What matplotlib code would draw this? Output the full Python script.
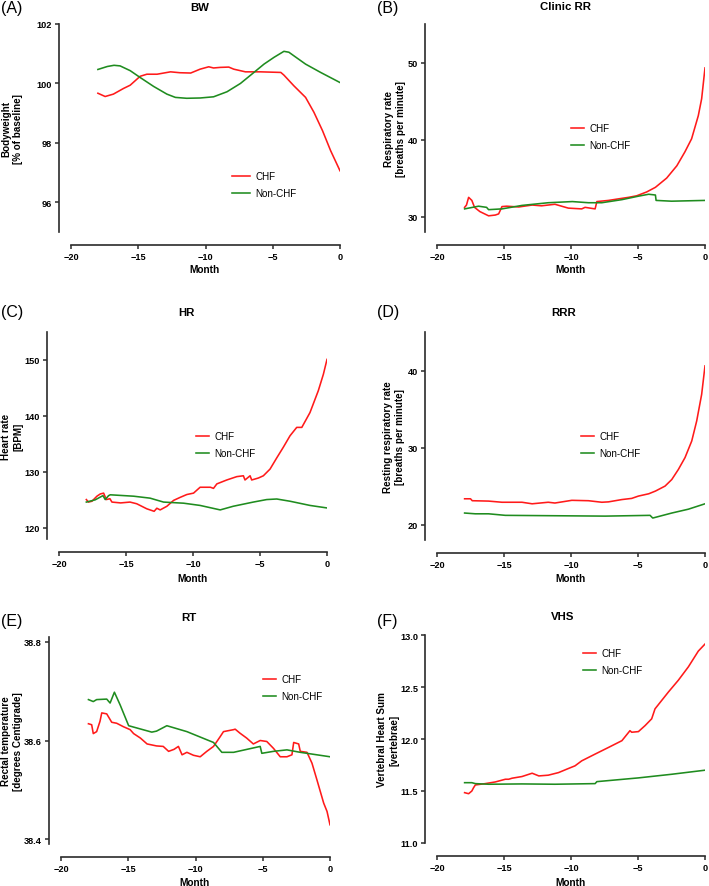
import matplotlib
matplotlib.use('Agg')
import matplotlib.pyplot as plt

plt.rcParams['font.family'] = ['Liberation Sans', 'DejaVu Sans']

# ---- data (month before diagnosis, value) ----
bw_chf_x = [-18.0, -17.46, -16.85, -16.1, -15.6, -14.86, -14.36, -13.6, -12.6, -11.9, -11.1, -10.4,
            -9.76, -9.4, -8.9, -8.27, -7.9, -7.03, -5.9, -5.16, -4.4, -4.17, -3.43, -2.56, -1.94,
            -1.3, -0.7, 0.0]
bw_chf_y = [99.67, 99.56, 99.64, 99.83, 99.94, 100.24, 100.31, 100.31, 100.39, 100.36, 100.35, 100.48,
            100.56, 100.52, 100.54, 100.55, 100.48, 100.39, 100.39, 100.38, 100.37, 100.28, 99.92, 99.53,
            99.03, 98.41, 97.74, 97.06]
bw_non_x = [-18.0, -17.3, -16.8, -16.35, -15.6, -14.86, -13.86, -12.87, -12.24, -11.4, -10.4, -9.4,
            -8.4, -7.4, -6.4, -5.65, -4.9, -4.17, -3.8, -3.43, -2.56, -1.44, 0.0]
bw_non_y = [100.47, 100.57, 100.61, 100.59, 100.43, 100.2, 99.9, 99.64, 99.53, 99.5, 99.51, 99.55,
            99.72, 100.0, 100.37, 100.65, 100.88, 101.08, 101.05, 100.93, 100.65, 100.37, 100.03]

rr_chf_x = [-17.94, -17.8, -17.64, -17.4, -17.2, -16.8, -16.15, -15.65, -15.4, -15.15, -14.8, -13.9,
            -12.9, -12.2, -11.2, -10.7, -10.2, -9.2, -8.95, -8.2, -8.07, -7.2, -6.46, -5.7, -5.1,
            -4.35, -3.7, -2.86, -2.1, -1.5, -1.0, -0.5, -0.25, 0.0]
rr_chf_y = [31.2, 31.5, 32.5, 32.1, 31.2, 30.65, 30.1, 30.2, 30.35, 31.3, 31.35, 31.25,
            31.5, 31.4, 31.6, 31.35, 31.1, 31.0, 31.2, 31.0, 31.95, 32.1, 32.3, 32.5, 32.7,
            33.2, 33.8, 35.0, 36.6, 38.4, 40.1, 43.1, 45.3, 49.3]
rr_non_x = [-17.94, -16.9, -16.3, -16.15, -15.15, -13.66, -11.7, -9.9, -8.7, -7.7, -6.2, -4.97,
            -4.2, -3.7, -3.65, -2.5, 0.0]
rr_non_y = [31.0, 31.35, 31.2, 30.9, 31.0, 31.45, 31.8, 31.95, 31.8, 31.8, 32.2, 32.65,
            32.9, 32.8, 32.1, 32.0, 32.1]

hr_chf_x = [-17.96, -17.8, -17.54, -17.17, -16.92, -16.67, -16.47, -16.2, -16.05, -15.4, -14.7, -14.2,
            -13.45, -12.9, -12.7, -12.45, -11.95, -11.45, -10.95, -10.46, -9.96, -9.47, -8.7, -8.47,
            -8.22, -7.48, -6.73, -6.24, -6.12, -5.74, -5.62, -5.12, -4.75, -4.25, -3.75, -3.26,
            -2.76, -2.26, -1.88, -1.27, -0.65, -0.27, 0.0]
hr_chf_y = [125.05, 124.6, 124.75, 125.65, 126.05, 126.2, 125.05, 125.2, 124.6, 124.45, 124.6, 124.3,
            123.4, 122.95, 123.5, 123.2, 123.85, 124.9, 125.45, 125.95, 126.2, 127.25, 127.25, 127.05,
            127.85, 128.55, 129.15, 129.3, 128.55, 129.3, 128.55, 128.9, 129.3, 130.5, 132.5, 134.4,
            136.45, 137.95, 137.95, 140.6, 144.5, 147.45, 150.1]
hr_non_x = [-17.96, -17.3, -16.72, -16.55, -16.3, -16.17, -14.43, -13.2, -12.2, -10.7, -9.47, -7.97,
            -7.0, -5.5, -4.5, -3.75, -2.76, -1.27, 0.0]
hr_non_y = [124.6, 125.0, 125.75, 125.05, 125.75, 125.9, 125.65, 125.3, 124.6, 124.4, 124.0, 123.2,
            123.85, 124.6, 125.05, 125.15, 124.75, 124.0, 123.55]

rrr_chf_x = [-17.94, -17.5, -17.37, -16.15, -15.15, -13.66, -12.9, -11.7, -11.2, -9.94, -8.7, -7.7,
             -7.2, -6.2, -5.47, -4.97, -4.2, -3.7, -2.98, -2.48, -1.99, -1.49, -0.99, -0.62, -0.25, 0.0]
rrr_chf_y = [23.35, 23.35, 23.1, 23.05, 22.9, 22.9, 22.7, 22.9, 22.8, 23.15, 23.1, 22.9,
             22.95, 23.25, 23.4, 23.7, 24.0, 24.35, 25.0, 25.85, 27.15, 28.7, 30.85, 33.45, 36.9, 40.6]
rrr_non_x = [-17.94, -17.14, -16.15, -14.9, -11.2, -7.45, -4.1, -3.9, -2.48, -1.24, 0.0]
rrr_non_y = [21.5, 21.4, 21.4, 21.2, 21.15, 21.1, 21.2, 20.85, 21.5, 22.0, 22.7]

rt_chf_x = [-17.96, -17.72, -17.6, -17.35, -17.1, -16.97, -16.6, -16.23, -15.86, -15.36, -14.86, -14.6,
            -14.1, -13.6, -12.9, -12.4, -12.0, -11.6, -11.27, -11.0, -10.64, -10.15, -9.65, -9.16,
            -8.66, -8.16, -7.92, -7.17, -7.05, -6.7, -6.2, -5.7, -5.19, -4.7, -4.2, -3.7, -3.2,
            -2.83, -2.7, -2.33, -2.21, -1.71, -1.34, -0.97, -0.47, -0.22, 0.0]
rt_chf_y = [38.634, 38.632, 38.614, 38.618, 38.639, 38.656, 38.654, 38.637, 38.635, 38.628, 38.622, 38.614,
            38.605, 38.593, 38.589, 38.588, 38.578, 38.582, 38.588, 38.571, 38.576, 38.57, 38.567, 38.578,
            38.588, 38.608, 38.618, 38.622, 38.623, 38.615, 38.605, 38.593, 38.6, 38.598, 38.584, 38.567, 38.567,
            38.571, 38.596, 38.593, 38.578, 38.576, 38.554, 38.52, 38.473, 38.456, 38.429]
rt_non_x = [-17.96, -17.6, -17.35, -16.6, -16.35, -16.03, -15.6, -14.97, -13.25, -12.9, -12.13, -10.64,
            -8.66, -8.04, -7.17, -5.19, -5.07, -4.2, -3.2, -2.21, 0.0]
rt_non_y = [38.683, 38.679, 38.683, 38.684, 38.676, 38.698, 38.672, 38.63, 38.617, 38.619, 38.63, 38.618,
            38.596, 38.576, 38.576, 38.588, 38.574, 38.578, 38.581, 38.576, 38.567]

vhs_chf_x = [-17.94, -17.64, -17.4, -17.27, -17.14, -16.4, -15.65, -14.9, -14.65, -14.4, -13.66, -12.9,
             -12.4, -11.7, -10.93, -10.2, -9.7, -9.2, -8.2, -7.2, -6.2, -5.6, -5.47, -4.97, -4.47,
             -3.98, -3.73, -3.23, -2.73, -1.99, -1.24, -0.5, 0.0]
vhs_chf_y = [11.484, 11.474, 11.5, 11.532, 11.558, 11.571, 11.587, 11.613, 11.613, 11.623, 11.639, 11.671,
             11.645, 11.652, 11.677, 11.716, 11.742, 11.79, 11.855, 11.919, 11.984, 12.08, 12.065, 12.071, 12.129,
             12.194, 12.29, 12.371, 12.452, 12.565, 12.694, 12.845, 12.913]
vhs_non_x = [-17.94, -17.4, -17.14, -16.15, -13.66, -11.2, -8.2, -8.07, -4.97, -2.48, 0.0]
vhs_non_y = [11.58, 11.58, 11.571, 11.565, 11.568, 11.565, 11.571, 11.59, 11.626, 11.661, 11.7]

W, H = 709, 887
RED = '#ff1a1a'
GREEN = '#1f8c1f'
SPINE = '#2b2b2b'

# panel: letter, title, ylabel, data, ylim, yticks, ticklabels,
# axes box (left, right, top, bottom px), label x px, legend (x, top), handlelength, month y, title pos
panels = [
    ('(A)', 'BW', 'Bodyweight\n[% of baseline]', (bw_chf_x, bw_chf_y, bw_non_x, bw_non_y),
     (95, 102), [96, 98, 100, 102], None, (71, 340, 25, 233), 12, (232, 172), 1.8, 270, (200, 8), (1, 8)),
    ('(B)', 'Clinic RR', 'Respiratory rate\n[breaths per minute]', (rr_chf_x, rr_chf_y, rr_non_x, rr_non_y),
     (28, 55), [30, 40, 50], None, (437, 705, 25, 233), 395, (571, 124), 1.3, 270, (565, 7), (377, 8)),
    ('(C)', 'HR', 'Heart rate\n[BPM]', (hr_chf_x, hr_chf_y, hr_non_x, hr_non_y),
     (118, 155), [120, 130, 140, 150], None, (59, 327, 333, 540), 12, (196, 432), 1.3, 579, (186, 313), (1, 312)),
    ('(D)', 'RRR', 'Resting respiratory rate\n[breaths per minute]', (rrr_chf_x, rrr_chf_y, rrr_non_x, rrr_non_y),
     (18, 45), [20, 30, 40], None, (437, 705, 333, 541), 394, (581, 432), 1.3, 579, (564, 313), (377, 312)),
    ('(E)', 'RT', 'Rectal temperature\n[degrees Centigrade]', (rt_chf_x, rt_chf_y, rt_non_x, rt_non_y),
     (38.39, 38.81), [38.4, 38.6, 38.8], ['38.4', '38.6', '38.8'], (61, 330, 638, 845), 12, (263, 675), 1.3, 883, (189, 618), (1, 622)),
    ('(F)', 'VHS', 'Vertebral Heart Sum\n[vertebrae]', (vhs_chf_x, vhs_chf_y, vhs_non_x, vhs_non_y),
     (11.0, 13.0), [11.0, 11.5, 12.0, 12.5, 13.0], ['11.0', '11.5', '12.0', '12.5', '13.0'], (437, 705, 636, 844), 388, (583, 649), 1.3, 883, (563, 617), (377, 622)),
]

fig = plt.figure(figsize=(W / 100, H / 100), dpi=100)

for (letter, title, ylab, data, ylim, yticks, ytl, box, labx, leg, hl, monthy, tpos, lpos) in panels:
    l, r, t, b = box
    ax = fig.add_axes([l / W, 1 - b / H, (r - l) / W, (b - t) / H])
    cx, cy, nx, ny = data
    ax.plot(cx, cy, color=RED, lw=1.15, label='CHF')
    ax.plot(nx, ny, color=GREEN, lw=1.15, label='Non-CHF')
    ax.set_xlim(-20, 0)
    ax.set_ylim(*ylim)
    ax.set_xticks([-20, -15, -10, -5, 0])
    ax.set_xticklabels(['\u221220', '\u221215', '\u221210', '\u22125', '0'])
    ax.set_yticks(yticks)
    if ytl:
        ax.set_yticklabels(ytl)
    for s in ['top', 'right']:
        ax.spines[s].set_visible(False)
    ax.spines['left'].set_position(('outward', 9))
    ax.spines['bottom'].set_position(('outward', 9))
    for s in ['left', 'bottom']:
        ax.spines[s].set_linewidth(1.2)
        ax.spines[s].set_color(SPINE)
    ax.tick_params(length=3.2, width=1.1, color=SPINE, labelsize=6.6, pad=1.5)
    ax.tick_params(axis='x', pad=2.5)
    for lab in ax.get_xticklabels() + ax.get_yticklabels():
        lab.set_fontweight('bold')
    ax.patch.set_visible(False)

    ax.legend(loc='upper left', bbox_to_anchor=(leg[0] / W, 1 - leg[1] / H),
              bbox_transform=fig.transFigure, frameon=False, borderpad=0, borderaxespad=0,
              handlelength=hl, handletextpad=0.6, labelspacing=0.75, fontsize=7.1)

    fig.text(labx / W, 1 - ((t + b) / 2) / H, ylab, rotation=90, ha='center', va='center',
             fontsize=7.1, fontweight='bold', multialignment='center', linespacing=1.25)
    fig.text(((l + r) / 2 - 1) / W, 1 - monthy / H, 'Month', ha='center', va='center',
             fontsize=7.3, fontweight='bold')
    fig.text(tpos[0] / W, 1 - tpos[1] / H, title, ha='center', va='center',
             fontsize=8.2, fontweight='bold')
    fig.text(lpos[0] / W, 1 - lpos[1] / H, letter, ha='left', va='center', fontsize=11.5)

fig.savefig('out.png', dpi=100)
